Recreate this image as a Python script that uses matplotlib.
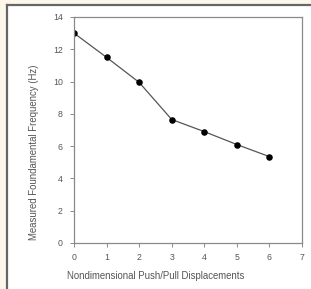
import matplotlib.pyplot as plt

plt.rcParams['font.family'] = ['Liberation Sans', 'DejaVu Sans']

displacements = [0, 1, 2, 3, 4, 5, 6]
frequency = [13.0, 11.5, 9.95, 7.65, 6.9, 6.1, 5.35]

fig = plt.figure(figsize=(3.11, 2.89), dpi=100)
fig.patch.set_facecolor('#fcf7ea')

# white panel with dark border on left/top
bg = fig.add_axes([7/311, 0, 1 - 7/311, 1 - 5/289], zorder=-1)
bg.set_facecolor('white')
bg.set_xticks([])
bg.set_yticks([])
bg.spines['right'].set_visible(False)
bg.spines['bottom'].set_visible(False)
bg.spines['left'].set_color('#666666')
bg.spines['top'].set_color('#666666')
bg.spines['left'].set_linewidth(1.6)
bg.spines['top'].set_linewidth(1.6)

ax = fig.add_axes([74/311, 46/289, 228/311, 226/289])
ax.set_facecolor('white')
ax.plot(displacements, frequency, color='#555555', lw=0.9,
        marker='o', ms=3.7, mfc='black', mec='black')

ax.set_xlim(0, 7)
ax.set_ylim(0, 14)
ax.set_xticks(range(0, 8))
ax.set_yticks(range(0, 15, 2))
for s in ax.spines.values():
    s.set_color('#8a8a8a')
    s.set_linewidth(0.9)
ax.tick_params(direction='out', length=3, width=0.7, colors='#8a8a8a',
               labelcolor='#555555', labelsize=6.3)
ax.tick_params(axis='x', pad=4)
ax.tick_params(axis='y', pad=5)
ax.set_xlabel('Nondimensional Push/Pull Displacements', fontsize=6.9,
              color='#555555')
ax.set_ylabel('Measured Foundamental Frequency (Hz)', fontsize=6.9,
              color='#555555')
# labels sit off-centre in the original
ax.xaxis.set_label_coords(0.357, -0.123)
ax.yaxis.set_label_coords(-0.153, 0.40)

fig.savefig('out.png', dpi=100, facecolor=fig.get_facecolor())
